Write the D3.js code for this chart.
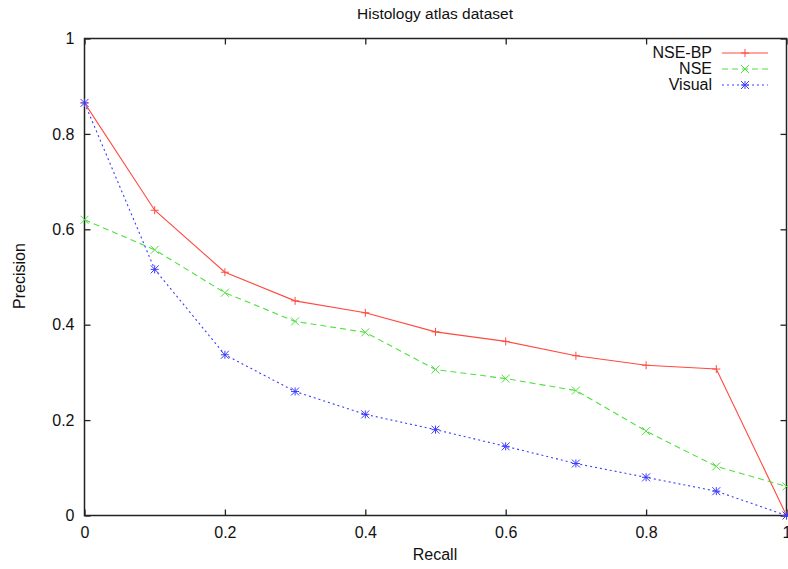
<!DOCTYPE html>
<html><head><meta charset="utf-8">
<script src="https://cdn.jsdelivr.net/npm/d3@7"></script>
<style>body{margin:0;background:#fff}svg{display:block}text{font-family:"Liberation Sans",Arial,sans-serif;fill:#111}</style>
</head><body>
<svg id="c" width="788" height="569"></svg>
<script>
const recall = [0,0.1,0.2,0.3,0.4,0.5,0.6,0.7,0.8,0.9,1.0];
const nseBP  = [0.865,0.64,0.51,0.45,0.425,0.385,0.365,0.335,0.315,0.307,0.0];
const nse    = [0.62,0.557,0.467,0.407,0.384,0.306,0.287,0.262,0.177,0.103,0.061];
const visual = [0.865,0.516,0.337,0.26,0.212,0.18,0.145,0.109,0.08,0.051,0.0];
const seriesNames = ["NSE-BP","NSE","Visual"];
const xTicks = [0,0.2,0.4,0.6,0.8,1];
const yTicks = [0,0.2,0.4,0.6,0.8,1];
const xTickLabels = ["0","0.2","0.4","0.6","0.8","1"];
const yTickLabels = ["0","0.2","0.4","0.6","0.8","1"];

const svg = d3.select("#c");
const L=84.5, R=786.5, T=38.5, B=515.5;
const x = d3.scaleLinear().domain([0,1]).range([L,R]);
const y = d3.scaleLinear().domain([0,1]).range([B,T]);

const styles = [
  {color:"#ff4a40", dash:null, marker:"plus"},
  {color:"#50e040", dash:"6,4", marker:"cross"},
  {color:"#3c3cff", dash:"2,3", marker:"star"}
];
const data = [nseBP,nse,visual];

// title and labels
svg.append("text").attr("x",435).attr("y",19).attr("text-anchor","middle").attr("font-size",15.5).text("Histology atlas dataset");
svg.append("text").attr("x",435).attr("y",560).attr("text-anchor","middle").attr("font-size",16).text("Recall");
svg.append("text").attr("transform","translate(25,276) rotate(-90)").attr("text-anchor","middle").attr("font-size",16).text("Precision");

// axes with inward ticks
const axB = d3.axisBottom(x).tickValues(xTicks).tickFormat((d,i)=>xTickLabels[i]).tickSizeInner(-6).tickSizeOuter(0).tickPadding(11);
const axL = d3.axisLeft(y).tickValues(yTicks).tickFormat((d,i)=>yTickLabels[i]).tickSizeInner(-6).tickSizeOuter(0).tickPadding(10);
const axT = d3.axisTop(x).tickValues(xTicks).tickFormat("").tickSizeInner(-6).tickSizeOuter(0);
const axR = d3.axisRight(y).tickValues(yTicks).tickFormat("").tickSizeInner(-6).tickSizeOuter(0);
const gB = svg.append("g").attr("transform",`translate(0,${B})`).call(axB);
const gL = svg.append("g").attr("transform",`translate(${L},0)`).call(axL);
const gT = svg.append("g").attr("transform",`translate(0,${T})`).call(axT);
const gR = svg.append("g").attr("transform",`translate(${R},0)`).call(axR);
[gB,gL,gT,gR].forEach(g=>{g.selectAll("path,line").attr("stroke","#222").attr("stroke-width",1.3);g.selectAll("text").attr("font-size",16).attr("font-family","Liberation Sans, Arial, sans-serif").attr("fill","#111");g.select(".domain").remove();});
svg.append("rect").attr("x",L).attr("y",T).attr("width",R-L).attr("height",B-T).attr("fill","none").attr("stroke","#222").attr("stroke-width",1.5);

function marker(g,type,cx,cy,color){
  const s=4;
  const p=[];
  if(type==="plus"||type==="star"){p.push([cx-s,cy,cx+s,cy],[cx,cy-s,cx,cy+s]);}
  if(type==="cross"||type==="star"){p.push([cx-s,cy-s,cx+s,cy+s],[cx-s,cy+s,cx+s,cy-s]);}
  p.forEach(q=>g.append("line").attr("x1",q[0]).attr("y1",q[1]).attr("x2",q[2]).attr("y2",q[3]).attr("stroke",color).attr("stroke-width",1));
}

const line = d3.line().x((d,i)=>x(recall[i])).y(d=>y(d));
data.forEach((vals,k)=>{
  const st=styles[k];
  const g=svg.append("g");
  g.append("path").datum(vals).attr("d",line).attr("fill","none").attr("stroke",st.color).attr("stroke-width",1.1).attr("stroke-dasharray",st.dash);
  vals.forEach((v,i)=>marker(g,st.marker,x(recall[i]),y(v),st.color));
});

// legend
seriesNames.forEach((n,k)=>{
  const st=styles[k];
  const ly=[53,69,85][k];
  svg.append("text").attr("x",712).attr("y",ly+5).attr("text-anchor","end").attr("font-size",16).text(n);
  svg.append("line").attr("x1",722).attr("x2",768).attr("y1",ly).attr("y2",ly).attr("stroke",st.color).attr("stroke-width",1.1).attr("stroke-dasharray",st.dash);
  marker(svg,st.marker,745,ly,st.color);
});
</script>
</body></html>
